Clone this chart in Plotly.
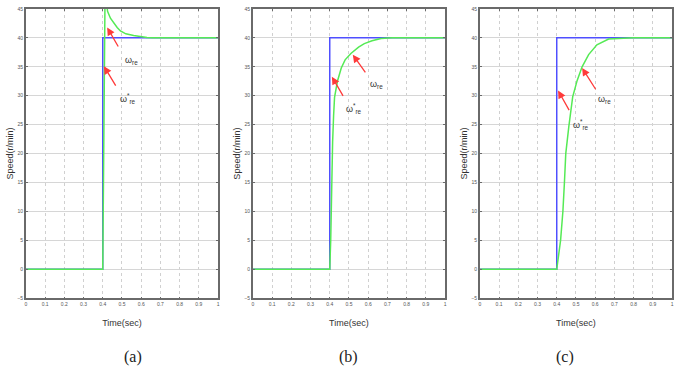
import plotly.graph_objects as go

# ---- data ----
ref_t = [0, 0.4, 0.4, 1.0]
ref_v = [0, 0, 40, 40]

a_t = [0, 0.4, 0.412, 0.425, 0.44, 0.457, 0.475, 0.492, 0.52, 0.561, 0.6, 0.63, 0.656, 1.0]
a_v = [0, 0, 48, 44.6, 43.4, 42.6, 41.8, 41.2, 40.7, 40.4, 40.15, 40.05, 40, 40]

b_t = [0, 0.4, 0.405, 0.41, 0.415, 0.42, 0.425, 0.44, 0.46, 0.48, 0.51, 0.55, 0.58, 0.62, 0.667, 0.725, 1.0]
b_v = [0, 0, 5, 15, 22, 26.5, 29.7, 32.5, 34.8, 36.2, 37.3, 38.4, 39.0, 39.5, 39.9, 40, 40]

c_t = [0, 0.4, 0.42, 0.432, 0.44, 0.447, 0.463, 0.483, 0.506, 0.532, 0.566, 0.609, 0.67, 0.8, 1.0]
c_v = [0, 0, 5, 10, 15, 20, 24.7, 29.8, 32.6, 35, 37.1, 38.8, 39.8, 40, 40]

x_ticks = [0, 0.1, 0.2, 0.3, 0.4, 0.5, 0.6, 0.7, 0.8, 0.9, 1]
x_tick_text = ["0", "0.1", "0.2", "0.3", "0.4", "0.5", "0.6", "0.7", "0.8", "0.9", "1"]
y_ticks = [-5, 0, 5, 10, 15, 20, 25, 30, 35, 40, 45]
panel_labels = ["(a)", "(b)", "(c)"]

# arrows: (head_t, head_v, tail_t, tail_v, label_t, label_v)
arrows = [
    [(0.423, 41.8, 0.496, 37.6, 0.55, 36.0), (0.406, 35.1, 0.483, 30.9, 0.53, 29.5)],
    [(0.52, 37.1, 0.601, 33.3, 0.645, 32.0), (0.411, 33.3, 0.485, 29.1, 0.525, 27.8)],
    [(0.532, 34.8, 0.618, 30.3, 0.65, 29.3), (0.407, 30.9, 0.48, 26.6, 0.525, 25.0)],
]
arrow_labels = ["ω<sub>re</sub>", "ω<sup>*</sup><sub>re</sub>"]

series = [(a_t, a_v), (b_t, b_v), (c_t, c_v)]

x_domains = [[25 / 680, 218 / 680], [253 / 680, 446 / 680], [481 / 680, 674 / 680]]
y_domain = [1 - 300 / 382, 1 - 6 / 382]

fig = go.Figure()
annotations = []
for i, (gt, gv) in enumerate(series):
    xa = "x" if i == 0 else f"x{i+1}"
    ya = "y" if i == 0 else f"y{i+1}"
    fig.add_trace(go.Scatter(x=ref_t, y=ref_v, mode="lines", xaxis=xa, yaxis=ya,
                             line=dict(color="#4f4fff", width=1.5), showlegend=False))
    fig.add_trace(go.Scatter(x=gt, y=gv, mode="lines", xaxis=xa, yaxis=ya,
                             line=dict(color="#55ea55", width=1.5), showlegend=False))
    axkey = "xaxis" if i == 0 else f"xaxis{i+1}"
    aykey = "yaxis" if i == 0 else f"yaxis{i+1}"
    common = dict(showgrid=True, gridwidth=1,
                  showline=True, linecolor="#6a6a6a", linewidth=1.5, mirror="ticks",
                  ticks="inside", ticklen=2, tickcolor="#6a6a6a",
                  tickfont=dict(size=5, color="#555", family="Arial"), zeroline=False)
    fig.update_layout({
        axkey: dict(domain=x_domains[i], range=[0, 1], tickvals=x_ticks, ticktext=x_tick_text,
                    anchor=ya, gridcolor="#d0d0d0", griddash="dot",
                    title=dict(text="Time(sec)", font=dict(size=9, family="Arial", color="#333"),
                               standoff=14), **common),
        aykey: dict(domain=y_domain, range=[-5, 45], tickvals=y_ticks, anchor=xa,
                    gridcolor="#d6d6d6", griddash="solid",
                    title=dict(text="Speed(r/min)", font=dict(size=9, family="Arial", color="#333"),
                               standoff=2), **common),
    })
    for (ht, hv, tt, tv, lt, lv), lab in zip(arrows[i], arrow_labels):
        annotations.append(dict(x=ht, y=hv, ax=tt, ay=tv, xref=xa, yref=ya, axref=xa, ayref=ya,
                                showarrow=True, arrowhead=2, arrowsize=1.2, arrowwidth=1.3,
                                arrowcolor="#ff3a3a"))
        annotations.append(dict(x=lt, y=lv, xref=xa, yref=ya, text=lab, showarrow=False,
                                font=dict(size=9, family="Arial", color="#333")))
    xc = (x_domains[i][0] + x_domains[i][1]) / 2
    annotations.append(dict(x=xc, y=22 / 382, xref="paper", yref="paper", text=panel_labels[i],
                            yanchor="middle", showarrow=False,
                            font=dict(size=16, family="Liberation Serif", color="#222")))

fig.update_layout(width=680, height=382, margin=dict(l=0, r=0, t=0, b=0),
                  plot_bgcolor="white", paper_bgcolor="white", annotations=annotations)
fig.write_html("out.html")
